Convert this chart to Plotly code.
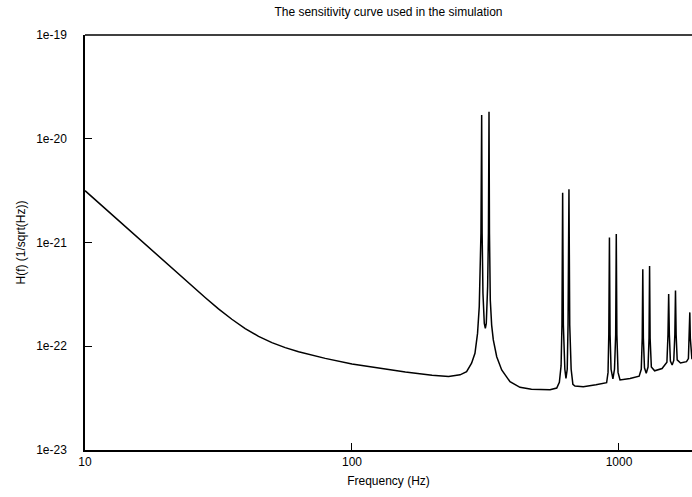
import math
import plotly.graph_objects as go

# Frequency (Hz) and strain sensitivity H(f) (1/sqrt(Hz))
freq_hz = [
    10, 12.59, 15.85, 19.95, 25.12, 28.18, 31.62, 35.48, 39.81, 44.67, 50.12, 56.23,
    63.1, 70.8, 79.4, 100, 125.9, 158.5, 199.5, 230,
    254, 268.7, 280.5, 288.8, 295.3, 299.7, 304.1, 306.0, 307.2, 309.4, 313, 315.8,
    318.4, 322.1, 324.4, 326.0, 327.3, 329.6, 333.5, 338.3, 348.4, 363.7, 390.7,
    425.8, 470, 506, 551.6, 584.6, 598, 607, 611.5, 615.2, 619, 627, 633,
    640, 644.5, 649.6, 654, 662, 672, 684, 735, 820, 899, 910, 916, 921,
    926, 934, 949, 962, 972, 977, 982, 992, 1009, 1100, 1190, 1212, 1222, 1228,
    1234, 1246, 1265, 1285, 1296, 1302, 1308, 1322, 1360, 1450, 1512, 1526, 1535,
    1544, 1558, 1582, 1604, 1619, 1628, 1637, 1652, 1700, 1790, 1820, 1834, 1842,
    1850, 1864, 1876,
]
h_strain = [
    3.16e-21, 1.86e-21, 1.10e-21, 6.46e-22, 3.85e-22, 2.95e-22, 2.29e-22, 1.82e-22,
    1.48e-22, 1.245e-22, 1.084e-22, 9.7e-23, 8.85e-23, 8.18e-23, 7.64e-23, 6.76e-23,
    6.14e-23, 5.65e-23, 5.25e-23, 5.12e-23,
    5.3e-23, 5.69e-23, 6.86e-23, 8.55e-23, 1.33e-22, 2.41e-22, 1.23e-21, 1.69e-20,
    1.23e-21, 3.24e-22, 1.66e-22, 1.49e-22,
    1.66e-22, 3.75e-22, 1.23e-21, 1.82e-20, 1.23e-21, 2.79e-22, 1.6e-22, 1.15e-22,
    7.92e-23, 5.9e-23, 4.55e-23,
    4.02e-23, 3.85e-23, 3.8e-23, 3.8e-23, 3.95e-23, 4.5e-23, 6.5e-23, 1.6e-22,
    3.02e-21, 1.6e-22, 6.0e-23, 4.9e-23,
    6.0e-23, 1.6e-22, 3.26e-21, 1.6e-22, 6.0e-23, 4.3e-23, 4.14e-23,
    4.08e-23, 4.25e-23, 4.45e-23, 5.6e-23, 1.3e-22, 1.12e-21,
    1.3e-22, 6.0e-23, 4.85e-23, 6.0e-23, 1.3e-22, 1.21e-21, 1.3e-22, 5.6e-23,
    4.73e-23, 4.9e-23, 5.15e-23, 6.0e-23, 1.2e-22, 5.52e-22,
    1.2e-22, 6.2e-23, 5.5e-23, 6.3e-23, 1.2e-22, 5.93e-22, 1.2e-22, 6.3e-23,
    5.8e-23, 6.1e-23, 7.0e-23, 1.3e-22, 3.19e-22,
    1.3e-22, 7.2e-23, 6.6e-23, 7.3e-23, 1.3e-22, 3.44e-22, 1.3e-22, 7.4e-23,
    6.9e-23, 7.1e-23, 7.6e-23, 1.2e-22, 2.12e-22,
    1.2e-22, 7.9e-23, 7.5e-23,
]

x_tick_vals = [10, 100, 1000]
x_tick_text = ["10", "100", "1000"]
x_minor_vals = [20, 30, 40, 50, 60, 70, 80, 90, 200, 300, 400, 500, 600, 700, 800, 900]
y_tick_vals = [1e-23, 1e-22, 1e-21, 1e-20, 1e-19]
y_tick_text = ["1e-23", "1e-22", "1e-21", "1e-20", "1e-19"]
y_minor_vals = [m * 10.0 ** e for e in (-23, -22, -21, -20) for m in range(2, 10)]

X_RANGE = [1, 3.2735]
Y_RANGE = [-23, -19]
FONT = "Liberation Sans, Arial, sans-serif"
W, H = 692, 497
MARGIN = dict(l=85, r=0, t=35, b=47)
PLOT_W = W - MARGIN["l"] - MARGIN["r"]
PLOT_H = H - MARGIN["t"] - MARGIN["b"]
MAJOR_LEN, MINOR_LEN = 7, 4

fig = go.Figure()
fig.add_trace(go.Scatter(
    x=freq_hz, y=h_strain, mode="lines",
    line=dict(color="black", width=1.5),
    showlegend=False, hoverinfo="x+y",
))

# top frame line (the right edge of the frame is cut off in the reference)
shapes = [dict(type="line", xref="paper", yref="paper", x0=0, x1=1, y0=1, y1=1,
               line=dict(color="black", width=1.5), layer="above")]

# tick marks (inside) drawn as axis-referenced line shapes
tick_line = dict(color="black", width=1)
for vals, length in ((x_tick_vals, MAJOR_LEN), (x_minor_vals, MINOR_LEN)):
    frac = length / PLOT_H
    for v in vals:
        lv = math.log10(v)
        shapes.append(dict(type="line", xref="x", yref="paper", x0=lv, x1=lv,
                           y0=0, y1=frac, line=tick_line, layer="above"))
        shapes.append(dict(type="line", xref="x", yref="paper", x0=lv, x1=lv,
                           y0=1, y1=1 - frac, line=tick_line, layer="above"))
for vals, length in ((y_tick_vals, MAJOR_LEN), (y_minor_vals, MINOR_LEN)):
    frac = length / PLOT_W
    for v in vals:
        lv = math.log10(v)
        shapes.append(dict(type="line", xref="paper", yref="y", x0=0, x1=frac,
                           y0=lv, y1=lv, line=tick_line, layer="above"))

fig.update_layout(
    width=W, height=H,
    margin=MARGIN,
    paper_bgcolor="white", plot_bgcolor="white",
    font=dict(family=FONT, size=12, color="black"),
    shapes=shapes,
    title=dict(
        text="The sensitivity curve used in the simulation",
        x=0.5, xref="paper", xanchor="center",
        y=1 - 12 / H, yref="container", yanchor="middle",
        font=dict(family=FONT, size=12, color="black"),
    ),
    xaxis=dict(
        type="log", range=X_RANGE,
        showgrid=False, zeroline=False,
        showline=True, linecolor="black", linewidth=1.5, mirror=False,
        tickmode="array", tickvals=x_tick_vals, ticktext=x_tick_text,
        ticks="inside", ticklen=MAJOR_LEN, tickwidth=1, tickcolor="black",
        tickfont=dict(size=12),
        title=dict(text="Frequency (Hz)", standoff=8, font=dict(size=12)),
    ),
    yaxis=dict(
        type="log", range=Y_RANGE,
        showgrid=False, zeroline=False,
        showline=True, linecolor="black", linewidth=1.5, mirror=False,
        tickmode="array", tickvals=y_tick_vals, ticktext=y_tick_text,
        ticks="inside", ticklen=MAJOR_LEN, tickwidth=1, tickcolor="black",
        tickfont=dict(size=12),
        ticklabelstandoff=14,
        title=dict(text="H(f) (1/sqrt(Hz))", standoff=8, font=dict(size=12)),
    ),
)

fig.write_html("out.html")
